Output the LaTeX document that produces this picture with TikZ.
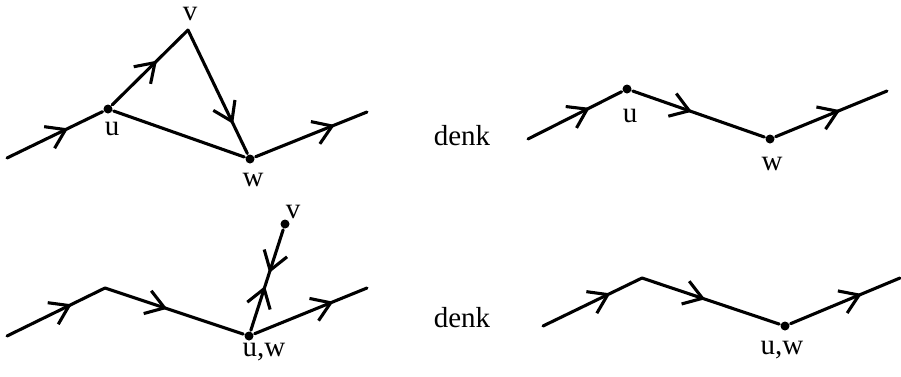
\documentclass[tikz,border=0pt]{standalone}
\usepackage{fontspec}
\setmainfont{Liberation Serif}
\usetikzlibrary{arrows.meta,decorations.markings}
\tikzset{barb/.tip={Straight Barb[length=18pt,width=24pt]}}

\begin{document}
\begin{tikzpicture}[x=1pt,y=-1pt,line width=3.1pt,line cap=round,line join=round,
  fwd/.style={postaction={decorate,decoration={markings,mark=at position #1 with {\arrow{barb}}}}},
  bwd/.style={postaction={decorate,decoration={markings,mark=at position #1 with {\arrowreversed{barb}}}}},
  dot/.style={circle,fill,inner sep=0pt,minimum size=9pt},
  lbl/.style={anchor=base,inner sep=0pt,font=\fontsize{29}{34}\selectfont}]
\useasboundingbox (0,0) rectangle (901,376);
% top left: the detour u -> v -> w
\coordinate (s1) at (7,158);
\node[dot] (u1) at (108,109) {};
\coordinate (v1) at (188,30);
\node[dot] (w1) at (250,159) {};
\coordinate (e1) at (367,112);
\draw[fwd=0.64] (s1) -- (u1);
\draw[fwd=0.59] (u1) -- (v1);
\draw[fwd=0.76] (v1) -- (w1);
\draw (u1) -- (w1);
\draw[fwd=0.71] (w1) -- (e1);
\node[lbl] (lv1) at (190,20) {v};
\node[lbl] (lu1) at (112,135) {u};
\node[lbl] (lw1) at (253,186) {w};
% top right
\node[lbl] (dk1) at (462,145) {denk};
\coordinate (s2) at (528,139);
\node[dot] (u2) at (627,89) {};
\node[dot] (w2) at (770,139) {};
\coordinate (e2) at (887,91);
\draw[fwd=0.66] (s2) -- (u2);
\draw[fwd=0.45] (u2) -- (w2);
\draw[fwd=0.58] (w2) -- (e2);
\node[lbl] (lu2) at (630,122) {u};
\node[lbl] (lw2) at (772,170) {w};
% bottom left: u = w, spur to v and back
\coordinate (s3) at (7,336);
\coordinate (c3) at (105,288);
\node[dot] (uw3) at (249,336) {};
\node[dot] (v3) at (285,224) {};
\coordinate (e3) at (367,288);
\draw[fwd=0.66] (s3) -- (c3);
\draw[fwd=0.45] (c3) -- (uw3);
\draw[fwd=0.44,bwd=0.57] (uw3) -- (v3);
\draw[fwd=0.70] (uw3) -- (e3);
\node[lbl] (lv3) at (293,218) {v};
\node[lbl] (luw3) at (264,356) {u,w};
% bottom right
\node[lbl] (dk2) at (462,327) {denk};
\coordinate (s4) at (543,326);
\coordinate (c4) at (642,278);
\node[dot] (uw4) at (785,326) {};
\coordinate (e4) at (900,278);
\draw[fwd=0.68] (s4) -- (c4);
\draw[fwd=0.46] (c4) -- (uw4);
\draw[fwd=0.65] (uw4) -- (e4);
\node[lbl] (luw4) at (782,354) {u,w};
\end{tikzpicture}
\end{document}
